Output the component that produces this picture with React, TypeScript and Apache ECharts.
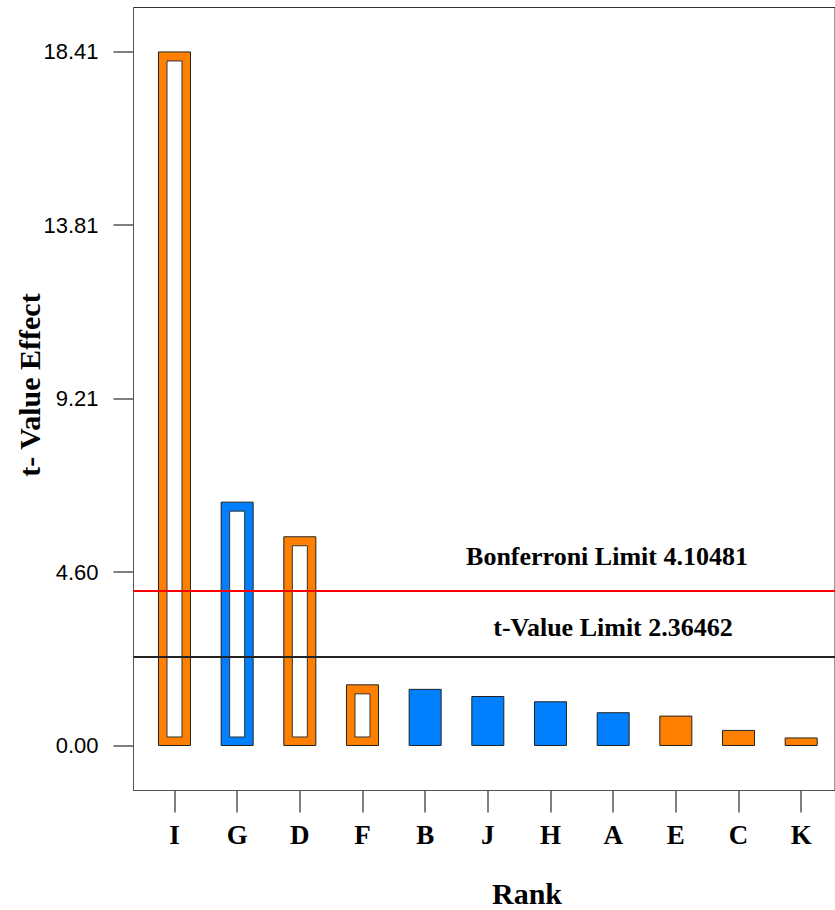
import React, { useEffect, useRef } from "react";
import * as echarts from "echarts";

const categories = ["I", "G", "D", "F", "B", "J", "H", "A", "E", "C", "K"];
const tValues = [18.41, 6.46, 5.54, 1.61, 1.49, 1.3, 1.16, 0.87, 0.78, 0.4, 0.2];
const hollowFlags = [true, true, true, true, false, false, false, false, false, false, false];
const barColors = ["#FF8000", "#0080FF", "#FF8000", "#FF8000", "#0080FF", "#0080FF", "#0080FF", "#0080FF", "#FF8000", "#FF8000", "#FF8000"];
const yTickLabels = ["0.00", "4.60", "9.21", "13.81", "18.41"];
const bonferroniLimit = 4.10481;
const tValueLimit = 2.36462;

export default function App() {
  const ref = useRef<HTMLDivElement>(null);
  useEffect(() => {
    if (!ref.current) return;
    const chart = echarts.init(ref.current, null, { renderer: "svg" });
    const serif = "'Liberation Serif', 'Times New Roman', serif";
    const sans = "'Liberation Sans', Arial, sans-serif";
    const data = categories.map((c, i) => [i, tValues[i], hollowFlags[i] ? 1 : 0]);
    chart.setOption({
      animation: false,
      backgroundColor: "#fff",
      grid: {
        left: 133.5,
        right: 0,
        top: 7.5,
        bottom: 119.5,
        show: true,
        borderColor: "#333",
        borderWidth: 1,
      },
      xAxis: {
        type: "value",
        min: -0.654,
        max: 10.54,
        axisLine: { show: true, onZero: false, lineStyle: { color: "#555", width: 1 } },
        axisTick: {
          show: true,
          inside: false,
          length: 22,
          customValues: categories.map((_, i) => i),
          lineStyle: { color: "#555", width: 1.5 },
        },
        axisLabel: {
          customValues: categories.map((_, i) => i),
          formatter: (v: number) => categories[Math.round(v)] ?? "",
          fontFamily: serif,
          fontWeight: "bold",
          fontSize: 27,
          color: "#000",
          margin: 31,
        },
        splitLine: { show: false },
      },
      yAxis: {
        type: "value",
        min: -1.195,
        max: 19.59,
        axisLine: { show: true, onZero: false, lineStyle: { color: "#555", width: 1 } },
        axisTick: {
          show: true,
          inside: false,
          length: 20,
          customValues: yTickLabels.map((s) => parseFloat(s)),
          lineStyle: { color: "#555", width: 1.5 },
        },
        axisLabel: {
          customValues: yTickLabels.map((s) => parseFloat(s)),
          formatter: (v: number) => {
            let best = yTickLabels[0];
            let d = Infinity;
            for (const s of yTickLabels) {
              const dd = Math.abs(parseFloat(s) - v);
              if (dd < d) { d = dd; best = s; }
            }
            return best;
          },
          fontFamily: sans,
          fontSize: 22,
          color: "#000",
          margin: 35,
        },
        splitLine: { show: false },
      },
      series: [
        {
          type: "custom",
          data,
          encode: { x: 0, y: 1 },
          renderItem: (params: any, api: any) => {
            const i = api.value(0);
            const v = api.value(1);
            const hollow = api.value(2) === 1;
            const top = api.coord([i, v]);
            const base = api.coord([i, 0]);
            const w = 32;
            const x0 = top[0] - w / 2;
            const h = base[1] - top[1];
            const children: any[] = [
              {
                type: "rect",
                shape: { x: x0, y: top[1], width: w, height: h },
                style: { fill: barColors[params.dataIndex], stroke: "#222", lineWidth: 1 },
              },
            ];
            if (hollow) {
              children.push({
                type: "rect",
                shape: { x: x0 + 8.5, y: top[1] + 9, width: w - 17, height: h - 17.5 },
                style: { fill: "#fff", stroke: "#333", lineWidth: 1 },
              });
            }
            return { type: "group", children };
          },
          markLine: {
            silent: true,
            symbol: "none",
            label: { show: false },
            data: [
              { yAxis: bonferroniLimit, lineStyle: { color: "#FF0000", width: 2, type: "solid" } },
              { yAxis: tValueLimit, lineStyle: { color: "#222", width: 2, type: "solid" } },
            ],
          },
        },
      ],
      graphic: [
        {
          type: "text",
          x: 607,
          y: 556,
          style: {
            text: "Bonferroni Limit " + bonferroniLimit.toFixed(5),
            font: "bold 26px " + serif,
            fill: "#000",
            textAlign: "center",
            textVerticalAlign: "middle",
          },
        },
        {
          type: "text",
          x: 613,
          y: 627,
          style: {
            text: "t-Value Limit " + tValueLimit.toFixed(5),
            font: "bold 26px " + serif,
            fill: "#000",
            textAlign: "center",
            textVerticalAlign: "middle",
          },
        },
        {
          type: "text",
          x: 527,
          y: 893,
          style: {
            text: "Rank",
            font: "bold 30px " + serif,
            fill: "#000",
            textAlign: "center",
            textVerticalAlign: "middle",
          },
        },
        {
          type: "text",
          x: 29,
          y: 385,
          rotation: Math.PI / 2,
          style: {
            text: "t- Value Effect",
            font: "bold 30px " + serif,
            fill: "#000",
            textAlign: "center",
            textVerticalAlign: "middle",
          },
        },
      ],
    });
    return () => chart.dispose();
  }, []);
  return (
    <div
      ref={ref}
      style={{ position: "fixed", left: 0, top: 0, width: 835, height: 910, background: "#fff" }}
    />
  );
}
